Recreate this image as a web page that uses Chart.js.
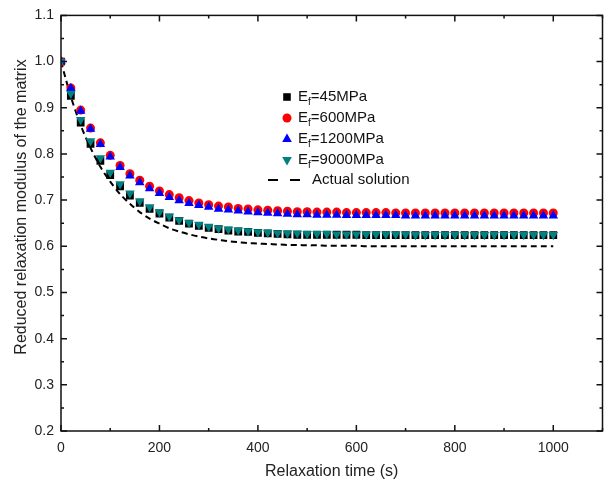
<!DOCTYPE html>
<html>
<head>
<meta charset="utf-8">
<script src="https://cdn.jsdelivr.net/npm/chart.js@4.4.0/dist/chart.umd.min.js"></script>
<style>
html, body { margin: 0; padding: 0; background: #fff; }
#wrap { width: 608px; height: 481px; }
</style>
</head>
<body>
<div id="wrap"><canvas id="c" width="608" height="481"></canvas></div>
<script>
// relaxation time (s)
const time = [0, 20, 40, 60, 80, 100, 120, 140, 160, 180, 200, 220, 240, 260, 280, 300, 320, 340, 360, 380,
  400, 420, 440, 460, 480, 500, 520, 540, 560, 580, 600, 620, 640, 660, 680, 700, 720, 740, 760, 780,
  800, 820, 840, 860, 880, 900, 920, 940, 960, 980, 1000];

const ef45 = [1.000, 0.926, 0.868, 0.822, 0.785, 0.754, 0.730, 0.710, 0.694, 0.681, 0.671, 0.662, 0.655, 0.649, 0.644, 0.640, 0.637, 0.634, 0.632, 0.631,
  0.629, 0.628, 0.627, 0.626, 0.625, 0.625, 0.625, 0.625, 0.625, 0.625, 0.625, 0.624, 0.624, 0.624, 0.624, 0.624, 0.624, 0.624, 0.624, 0.624,
  0.624, 0.624, 0.624, 0.624, 0.624, 0.624, 0.624, 0.624, 0.624, 0.624, 0.624];

const ef600 = [1.000, 0.943, 0.895, 0.856, 0.824, 0.797, 0.775, 0.757, 0.743, 0.730, 0.720, 0.712, 0.705, 0.699, 0.694, 0.690, 0.687, 0.685, 0.682, 0.681,
  0.679, 0.678, 0.677, 0.676, 0.675, 0.675, 0.674, 0.674, 0.674, 0.673, 0.673, 0.673, 0.673, 0.673, 0.672, 0.672, 0.672, 0.672, 0.672, 0.672,
  0.672, 0.672, 0.672, 0.672, 0.672, 0.672, 0.672, 0.672, 0.672, 0.672, 0.672];

const ef1200 = [1.000, 0.942, 0.893, 0.854, 0.821, 0.794, 0.771, 0.753, 0.738, 0.725, 0.715, 0.706, 0.699, 0.693, 0.689, 0.685, 0.681, 0.679, 0.677, 0.675,
  0.673, 0.672, 0.671, 0.670, 0.669, 0.669, 0.668, 0.668, 0.668, 0.667, 0.667, 0.667, 0.667, 0.667, 0.667, 0.666, 0.666, 0.666, 0.666, 0.666,
  0.666, 0.666, 0.666, 0.666, 0.666, 0.666, 0.666, 0.666, 0.666, 0.666, 0.666];

const ef9000 = [1.000, 0.931, 0.874, 0.828, 0.791, 0.760, 0.735, 0.715, 0.698, 0.685, 0.674, 0.665, 0.657, 0.651, 0.647, 0.643, 0.639, 0.637, 0.635, 0.633,
  0.631, 0.630, 0.629, 0.628, 0.628, 0.627, 0.627, 0.627, 0.626, 0.626, 0.626, 0.626, 0.626, 0.626, 0.626, 0.626, 0.625, 0.625, 0.625, 0.625,
  0.625, 0.625, 0.625, 0.625, 0.625, 0.625, 0.625, 0.625, 0.625, 0.625, 0.625];

const actual = [1.000, 0.924, 0.862, 0.813, 0.772, 0.740, 0.713, 0.692, 0.674, 0.660, 0.649, 0.639, 0.632, 0.626, 0.621, 0.617, 0.614, 0.611, 0.609, 0.607,
  0.606, 0.605, 0.604, 0.603, 0.603, 0.602, 0.602, 0.601, 0.601, 0.601, 0.601, 0.600, 0.600, 0.600, 0.600, 0.600, 0.600, 0.600, 0.600, 0.600,
  0.600, 0.600, 0.600, 0.600, 0.600, 0.600, 0.600, 0.600, 0.600, 0.600, 0.600];

const xTicks = [0, 200, 400, 600, 800, 1000];
const yTicks = [0.2, 0.3, 0.4, 0.5, 0.6, 0.7, 0.8, 0.9, 1.0, 1.1];

const FONT = 'Arial, "Liberation Sans", sans-serif';

function pts(arr) {
  return time.map((t, i) => ({ x: t, y: arr[i] }));
}

// inward ticks on all four sides + box frame
const frame = {
  id: 'frame',
  afterDatasetsDraw(chart) {
    const { ctx, chartArea: a, scales: { x, y } } = chart;
    ctx.save();
    ctx.strokeStyle = '#111';
    ctx.lineWidth = 1.5;
    ctx.beginPath();
    for (let v = 0; v <= 1100; v += 100) {
      const px = x.getPixelForValue(v);
      const len = v % 200 === 0 ? 6 : 3;
      ctx.moveTo(px, a.bottom); ctx.lineTo(px, a.bottom - len);
      ctx.moveTo(px, a.top); ctx.lineTo(px, a.top + len);
    }
    for (let k = 0; k <= 18; k++) {
      const v = 0.2 + k * 0.05;
      const py = y.getPixelForValue(v);
      const len = k % 2 === 0 ? 6 : 3;
      ctx.moveTo(a.left, py); ctx.lineTo(a.left + len, py);
      ctx.moveTo(a.right, py); ctx.lineTo(a.right - len, py);
    }
    ctx.stroke();
    ctx.strokeRect(a.left, a.top, a.right - a.left, a.bottom - a.top);
    ctx.restore();
  },
  afterDraw(chart) {
    const { ctx, chartArea: a } = chart;
    ctx.save();
    ctx.fillStyle = '#222';
    ctx.font = '16px ' + FONT;
    ctx.textAlign = 'center';
    ctx.textBaseline = 'middle';
    ctx.fillText('Relaxation time (s)', (a.left + a.right) / 2, 472);
    ctx.translate(22, 207);
    ctx.rotate(-Math.PI / 2);
    ctx.fillText('Reduced relaxation modulus of the matrix', 0, 0);
    ctx.restore();

    // legend
    const rows = [
      { sym: 'square', color: '#000', num: '45' },
      { sym: 'circle', color: '#ff0000', num: '600' },
      { sym: 'tri', color: '#0000ff', num: '1200' },
      { sym: 'triDown', color: '#008080', num: '9000' },
      { sym: 'dash', color: '#000', label: 'Actual solution' }
    ];
    const ys = [97, 118, 139, 160, 180];
    const sx = 287, tx = 298;
    ctx.save();
    rows.forEach((r, i) => {
      const yy = ys[i];
      ctx.fillStyle = r.color;
      ctx.strokeStyle = r.color;
      ctx.beginPath();
      if (r.sym === 'square') {
        ctx.rect(sx - 3.8, yy - 3.8, 7.6, 7.6); ctx.fill();
      } else if (r.sym === 'circle') {
        ctx.arc(sx, yy, 4.5, 0, Math.PI * 2); ctx.fill();
      } else if (r.sym === 'tri') {
        ctx.moveTo(sx, yy - 5.5); ctx.lineTo(sx + 4.8, yy + 3); ctx.lineTo(sx - 4.8, yy + 3); ctx.closePath(); ctx.fill();
      } else if (r.sym === 'triDown') {
        ctx.moveTo(sx, yy + 5.5); ctx.lineTo(sx + 4.8, yy - 3); ctx.lineTo(sx - 4.8, yy - 3); ctx.closePath(); ctx.fill();
      } else {
        ctx.lineWidth = 2;
        ctx.moveTo(268, yy); ctx.lineTo(278, yy);
        ctx.moveTo(290, yy); ctx.lineTo(300, yy);
        ctx.stroke();
      }
      ctx.fillStyle = '#111';
      ctx.textBaseline = 'middle';
      ctx.textAlign = 'left';
      if (r.label) {
        ctx.font = '15px ' + FONT;
        ctx.fillText(r.label, 312, yy);
      } else {
        ctx.font = '15px ' + FONT;
        ctx.fillText('E', tx, yy);
        let w = ctx.measureText('E').width;
        ctx.font = '10px ' + FONT;
        ctx.fillText('f', tx + w, yy + 5);
        w += ctx.measureText('f').width;
        ctx.font = '15px ' + FONT;
        ctx.fillText('=' + r.num + 'MPa', tx + w, yy);
      }
    });
    ctx.restore();
  }
};

new Chart(document.getElementById('c'), {
  type: 'line',
  data: {
    datasets: [
      { label: 'Ef=45MPa', data: pts(ef45), showLine: false, pointStyle: 'rect', pointRadius: 5.5,
        backgroundColor: '#000', borderColor: '#000', borderWidth: 0, order: 4 },
      { label: 'Ef=600MPa', data: pts(ef600), showLine: false, pointStyle: 'circle', pointRadius: 4.5,
        backgroundColor: '#ff0000', borderColor: '#ff0000', borderWidth: 0, order: 3 },
      { label: 'Ef=1200MPa', data: pts(ef1200), showLine: false, pointStyle: 'triangle', pointRadius: 5.5,
        backgroundColor: '#0000ff', borderColor: '#0000ff', borderWidth: 0, order: 2 },
      { label: 'Ef=9000MPa', data: pts(ef9000), showLine: false, pointStyle: 'triangle', pointRotation: 180, pointRadius: 5.5,
        backgroundColor: '#008080', borderColor: '#008080', borderWidth: 0, order: 1 },
      { label: 'Actual solution', data: pts(actual), borderColor: '#000', borderWidth: 2, borderDash: [6, 4],
        pointRadius: 0, fill: false, tension: 0.3, order: 5 }
    ]
  },
  options: {
    responsive: false,
    animation: false,
    layout: { padding: { left: 0, top: 14, right: 1, bottom: 0 } },
    plugins: { legend: { display: false }, tooltip: { enabled: false } },
    scales: {
      x: {
        type: 'linear', min: 0, max: 1100,
        afterBuildTicks: s => { s.ticks = xTicks.map(v => ({ value: v })); },
        afterFit: s => { s.height = 50; },
        grid: { display: false, drawTicks: false },
        border: { display: false },
        ticks: { padding: 9, color: '#222', font: { family: FONT, size: 14 }, maxRotation: 0, callback: v => String(v) }
      },
      y: {
        type: 'linear', min: 0.2, max: 1.1,
        afterBuildTicks: s => { s.ticks = yTicks.map(v => ({ value: v })); },
        afterFit: s => { s.width = 61; },
        grid: { display: false, drawTicks: false },
        border: { display: false },
        ticks: { padding: 7, color: '#222', font: { family: FONT, size: 14 }, callback: v => v.toFixed(1) }
      }
    }
  },
  plugins: [frame]
});
</script>
</body>
</html>
